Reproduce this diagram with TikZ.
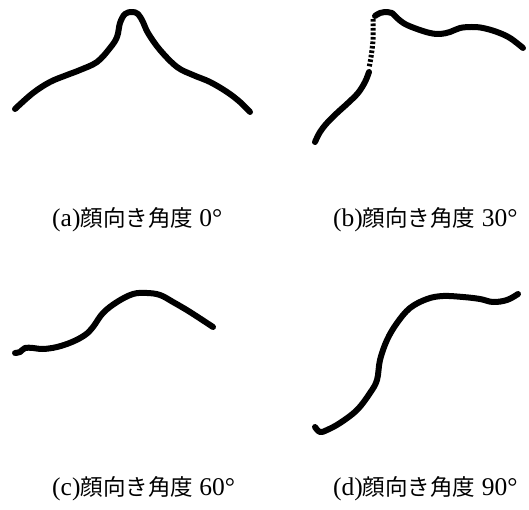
\documentclass[tikz,border=0pt]{standalone}
\usepackage{fontspec}
\setmainfont{Liberation Serif}
\newfontfamily\jpfont{Noto Sans CJK JP}
\newcommand\jp[1]{{\fontsize{22.5}{26}\selectfont\jpfont #1}}
\usepackage{tikz}

\tikzset{
  stroke/.style={line width=6pt,line cap=round,line join=round},
  figcap/.style={anchor=base west,inner sep=0pt,font=\fontsize{25.5}{30}\selectfont}
}

\begin{document}
\begin{tikzpicture}[x=1pt,y=1pt]
        \useasboundingbox (0,0) rectangle (529,509);
        %(a) 0
        \draw[stroke] plot[smooth,tension=0.6] coordinates{(15,400)(33,416)(50,427)(67,434)(80,439)(97,447)(110,461)(117,472)(120,486)(125,495)(132,497)(138,495)(143,487)(148,476)(160,459)(177,442)(193,434)(210,427)(227,417)(240,407)(250,397)};
        %(b) 30
        \draw[stroke] plot[smooth,tension=0.6] coordinates{(375,493)(380,496)(387,497)(392,496)(397,491)(405,485)(417,480)(430,476)(440,475)(450,477)(460,481)(472,482)(483,481)(497,477)(510,471)(523,461)};
        \draw[line width=5pt,dash pattern=on 2.6pt off 1.9pt] plot[smooth] coordinates{(373,490)(373,469)(371,452)(369,441)};
        \draw[stroke] plot[smooth,tension=0.6] coordinates{(369,437)(365,427)(358,416)(348,406)(337,396)(327,386)(320,377)(315,367)};
        %(c) 60
        \draw[stroke] plot[smooth,tension=0.6] coordinates{(15,156)(20,157)(25,161)(33,161)(43,160)(57,162)(72,167)(85,174)(93,182)(103,196)(117,207)(133,215)(147,216)(160,214)(173,207)(190,197)(213,182)};
        %(d) 90
        \draw[stroke] plot[smooth,tension=0.6] coordinates{(315,82)(320,77)(327,79)(340,86)(357,99)(370,116)(377,129)(380,149)(387,169)(397,186)(410,201)(427,210)(443,213)(463,212)(480,210)(493,207)(507,209)(518,215)};
        %文字
        \node[figcap] (capA) at (52,282) {(a)\jp{顔向き角度} 0°};
        \node[figcap] (capB) at (333,282) {(b)\jp{顔向き角度} 30°};
        \node[figcap] (capC) at (52,14) {(c)\jp{顔向き角度} 60°};
        \node[figcap] (capD) at (333,14) {(d)\jp{顔向き角度} 90°};
    \end{tikzpicture}
\end{document}
